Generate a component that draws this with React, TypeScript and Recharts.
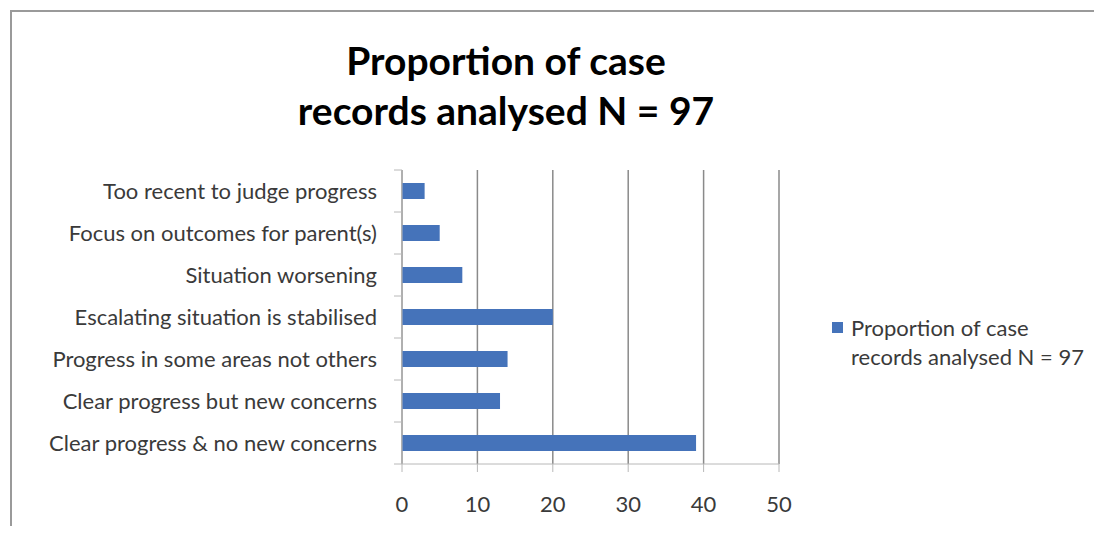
import React from 'react';
import {
  BarChart,
  Bar,
  XAxis,
  YAxis,
  CartesianGrid
} from 'recharts';

const categories = [
  'Too recent to judge progress',
  'Focus on outcomes for parent(s)',
  'Situation worsening',
  'Escalating situation is stabilised',
  'Progress in some areas not others',
  'Clear progress but new concerns',
  'Clear progress & no new concerns'
];
const caseCounts = [3, 5, 8, 20, 14, 13, 39];
const xTicks = [0, 10, 20, 30, 40, 50];
const seriesName = 'Proportion of case records analysed N = 97';
const titleLines = ['Proportion of case', 'records analysed N = 97'];
const legendLines = ['Proportion of case', 'records analysed N = 97'];

const BAR_COLOR = '#4573BA';
const TEXT_COLOR = '#3a3a3a';
const FONT = 'Lato, "Open Sans", sans-serif';
const PLOT_TOP = 170;
const PLOT_HEIGHT = 294;
const HALF_BAND = PLOT_HEIGHT / categories.length / 2;

const data = categories.map((label, i) => ({ label, value: caseCounts[i] }));

const CategoryTick = (props: any) => {
  const { x, y, payload, index } = props;
  const isLast = index === categories.length - 1;
  return (
    <g>
      <line x1={x - 8} x2={x} y1={y - HALF_BAND} y2={y - HALF_BAND} stroke="#b8b8b8" />
      {isLast && (
        <line x1={x - 8} x2={x} y1={y + HALF_BAND} y2={y + HALF_BAND} stroke="#b8b8b8" />
      )}
      <text
        x={x - 25}
        y={y - 1}
        textAnchor="end"
        dominantBaseline="central"
        fill={TEXT_COLOR}
        fontSize={22}
        fontFamily={FONT}
      >
        {payload.value}
      </text>
    </g>
  );
};

const LegendBox = () => (
  <div
    style={{
      position: 'absolute',
      left: 824,
      top: 305,
      display: 'flex',
      fontFamily: FONT,
      fontSize: 22,
      color: TEXT_COLOR
    }}
  >
    <div style={{ width: 11, height: 11, background: BAR_COLOR, marginTop: 9, marginRight: 8 }} />
    <div style={{ lineHeight: '29px' }}>
      {legendLines.map((l) => (
        <div key={l}>{l}</div>
      ))}
    </div>
  </div>
);

export default function App() {
  return (
    <div style={{ position: 'relative', width: 1086, height: 518 }}>
      <div
        style={{
          position: 'absolute',
          left: 2,
          top: 2,
          right: -8,
          bottom: -8,
          borderTop: '2px solid #9a9a9a',
          borderLeft: '2px solid #9a9a9a'
        }}
      />
      <div
        style={{
          position: 'absolute',
          left: -8,
          top: 27,
          width: 1012,
          textAlign: 'center',
          fontFamily: FONT,
          fontWeight: 700,
          fontSize: 39,
          lineHeight: '50px',
          color: '#000'
        }}
      >
        {titleLines.map((l) => (
          <div key={l}>{l}</div>
        ))}
      </div>
      <div style={{ position: 'absolute', left: -8, top: -8 }}>
        <BarChart
          width={1094}
          height={526}
          data={data}
          layout="vertical"
          barSize={16}
          margin={{ top: PLOT_TOP, right: 315, bottom: 22, left: 0 }}
        >
          <CartesianGrid horizontal={false} stroke="#8a8a8a" strokeWidth={1.5} />
          <XAxis
            type="number"
            domain={[0, 50]}
            ticks={xTicks}
            interval={0}
            height={40}
            tickSize={8}
            tickMargin={24}
            axisLine={{ stroke: '#b8b8b8' }}
            tickLine={{ stroke: '#b8b8b8' }}
            tick={{ fill: TEXT_COLOR, fontSize: 22, fontFamily: FONT }}
          />
          <YAxis
            type="category"
            dataKey="label"
            width={402}
            interval={0}
            tickSize={0}
            tickMargin={0}
            tickLine={false}
            axisLine={{ stroke: '#b8b8b8' }}
            tick={<CategoryTick />}
          />
          <Bar dataKey="value" name={seriesName} fill={BAR_COLOR} isAnimationActive={false} />
        </BarChart>
      </div>
      <LegendBox />
    </div>
  );
}
